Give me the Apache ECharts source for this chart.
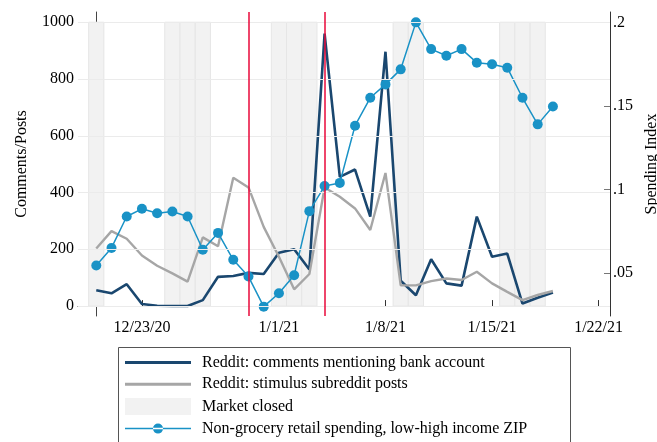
<!DOCTYPE html>
<html><head><meta charset="utf-8">
<script src="https://cdn.jsdelivr.net/npm/echarts@6/dist/echarts.min.js"></script>
<style>html,body{margin:0;padding:0;background:#fff}#c{width:657px;height:442px}</style>
</head><body><div id="c"></div>
<script>
// ---- data ----
const dates = ['2020-12-20','2020-12-21','2020-12-22','2020-12-23','2020-12-24','2020-12-25','2020-12-26','2020-12-27','2020-12-28','2020-12-29','2020-12-30','2020-12-31','2021-01-01','2021-01-02','2021-01-03','2021-01-04','2021-01-05','2021-01-06','2021-01-07','2021-01-08','2021-01-09','2021-01-10','2021-01-11','2021-01-12','2021-01-13','2021-01-14','2021-01-15','2021-01-16','2021-01-17','2021-01-18','2021-01-19'];
const bankComments = [56,45,77,7,1,0,0,21,103,106,117,113,188,200,129,960,455,481,315,896,89,38,165,80,72,315,174,185,9,29,48];
const stimulusPosts = [203,264,237,178,142,115,86,242,211,452,418,279,174,59,113,418,385,344,268,469,73,73,88,97,92,121,80,50,21,39,53];
const spending = [0.0546,0.0651,0.0839,0.0885,0.0859,0.0869,0.0839,0.0640,0.0741,0.0580,0.0480,0.0300,0.0380,0.0488,0.0871,0.1021,0.104,0.1382,0.1549,0.1629,0.1719,0.2,0.184,0.180,0.184,0.1759,0.1749,0.1729,0.1549,0.139,0.1497];
const closedDates = ['2020-12-20','2020-12-25','2020-12-26','2020-12-27','2021-01-01','2021-01-02','2021-01-03','2021-01-09','2021-01-10','2021-01-16','2021-01-17','2021-01-18'];
const closedLevel = 1000;
const eventDates = ['2020-12-30','2021-01-04'];
const xTickDates = ['2020-12-23','2021-01-01','2021-01-08','2021-01-15','2021-01-22'];
const leftTicks = [0,200,400,600,800,1000];
const rightTicks = [0.05,0.1,0.15,0.2];
const names = ['Reddit: comments mentioning bank account','Reddit: stimulus subreddit posts','Market closed','Non-grocery retail spending, low-high income ZIP'];

// ---- helpers ----
const base = Date.UTC(2020,11,20);
function dayNum(s){const p=s.split('-').map(Number);return (Date.UTC(p[0],p[1]-1,p[2])-base)/86400000;}
function dayLabel(d){const t=new Date(base+Math.round(d)*86400000);return (t.getUTCMonth()+1)+'/'+t.getUTCDate()+'/'+String(t.getUTCFullYear()).slice(2);}
const xs = dates.map(dayNum);
const F = 'Liberation Serif, Times New Roman, serif';
const navy='#1a476f', gray='#a6a6a6', blue='#1992c6', red='#e8083a', shade='#f2f2f2';

const chart = echarts.init(document.getElementById('c'), null, {renderer:'canvas'});
chart.setOption({
  animation:false,
  textStyle:{fontFamily:F,color:'#000'},
  grid:{left:78,right:47,top:12,bottom:126,containLabel:false,outerBoundsMode:'none'},
  xAxis:{type:'value',min:-1.2,max:33.75,
    axisLine:{show:true,lineStyle:{color:'#333',width:1}},
    axisTick:{show:true,inside:true,length:6,customValues:xTickDates.map(dayNum),lineStyle:{color:'#333'}},
    axisLabel:{fontFamily:F,fontSize:16,color:'#000',margin:4,customValues:xTickDates.map(dayNum),formatter:v=>dayLabel(v)},
    splitLine:{show:false}},
  yAxis:[
    {type:'value',min:-35,max:1036,position:'left',name:'Comments/Posts',nameLocation:'middle',nameGap:48,nameRotate:90,
     nameTextStyle:{fontFamily:F,fontSize:16,color:'#000'},
     axisLine:{show:true,lineStyle:{color:'#444',width:1}},
     axisTick:{show:true,inside:true,length:6,customValues:leftTicks,lineStyle:{color:'#777'}},
     axisLabel:{fontFamily:F,fontSize:16,color:'#000',margin:4,customValues:leftTicks,formatter:v=>String(v)},
     splitLine:{show:false}},
    {type:'value',min:0.0244,max:0.2062,position:'right',name:'Spending Index',nameLocation:'middle',nameGap:34,nameRotate:90,
     nameTextStyle:{fontFamily:F,fontSize:16,color:'#000'},
     axisLine:{show:true,lineStyle:{color:'#333',width:1}},
     axisTick:{show:true,inside:true,length:6,customValues:rightTicks,lineStyle:{color:'#777'}},
     axisLabel:{fontFamily:F,fontSize:16,color:'#000',margin:3,customValues:rightTicks,formatter:v=>String(v).replace(/^0/,'')},
     splitLine:{show:false}}
  ],
  legend:{left:125,top:354.5,orient:'vertical',padding:0,itemWidth:66,itemHeight:17,itemGap:5.7,
    textStyle:{fontFamily:F,fontSize:16,color:'#000',padding:[0,0,0,6]},selectedMode:false,
    data:[
      {name:names[0],icon:'path://M0,0H66V3H0Z',itemStyle:{color:navy,borderWidth:0}},
      {name:names[1],icon:'path://M0,0H66V3H0Z',itemStyle:{color:gray,borderWidth:0}},
      {name:names[2],icon:'rect',itemStyle:{color:shade,borderWidth:0}},
      {name:names[3],icon:'path://M0,4.25H66V5.75H0Z M28,5A5,5 0 1 0 38,5A5,5 0 1 0 28,5Z',itemStyle:{color:blue,borderWidth:0}}
    ]},
  graphic:[{type:'rect',shape:{x:118.5,y:347.5,width:452,height:110},style:{fill:'none',stroke:'#555',lineWidth:1},silent:true}],
  series:[
    {name:names[2],type:'custom',yAxisIndex:0,z:1,itemStyle:{color:shade},
     data:closedDates.map(s=>[dayNum(s),closedLevel]),
     encode:{x:0,y:1},
     renderItem:function(params,api){
       const d=api.value(0);
       const p0=api.coord([d-0.5,api.value(1)]);
       const p1=api.coord([d+0.5,0]);
       return {type:'rect',shape:{x:p0[0],y:p0[1],width:p1[0]-p0[0],height:p1[1]-p0[1]},style:{fill:shade,stroke:'#e6e6e6',lineWidth:1}};
     },
     markLine:{silent:true,symbol:'none',label:{show:false},animation:false,
       data:leftTicks.map(v=>({yAxis:v,lineStyle:{color:'#ebebeb',width:1,type:'solid'}}))
         .concat(eventDates.map(s=>({xAxis:dayNum(s),lineStyle:{color:red,width:1.5,type:'solid'}})))}
    },
    {name:names[0],type:'line',yAxisIndex:0,z:3,symbol:'none',data:xs.map((x,i)=>[x,bankComments[i]]),lineStyle:{color:navy,width:2.6},itemStyle:{color:navy}},
    {name:names[1],type:'line',yAxisIndex:0,z:3,symbol:'none',data:xs.map((x,i)=>[x,stimulusPosts[i]]),lineStyle:{color:gray,width:2.4},itemStyle:{color:gray}},
    {name:names[3],type:'line',yAxisIndex:1,z:4,symbol:'circle',symbolSize:10,data:xs.map((x,i)=>[x,spending[i]]),lineStyle:{color:blue,width:1.5},itemStyle:{color:blue}}
  ]
});
</script></body></html>
